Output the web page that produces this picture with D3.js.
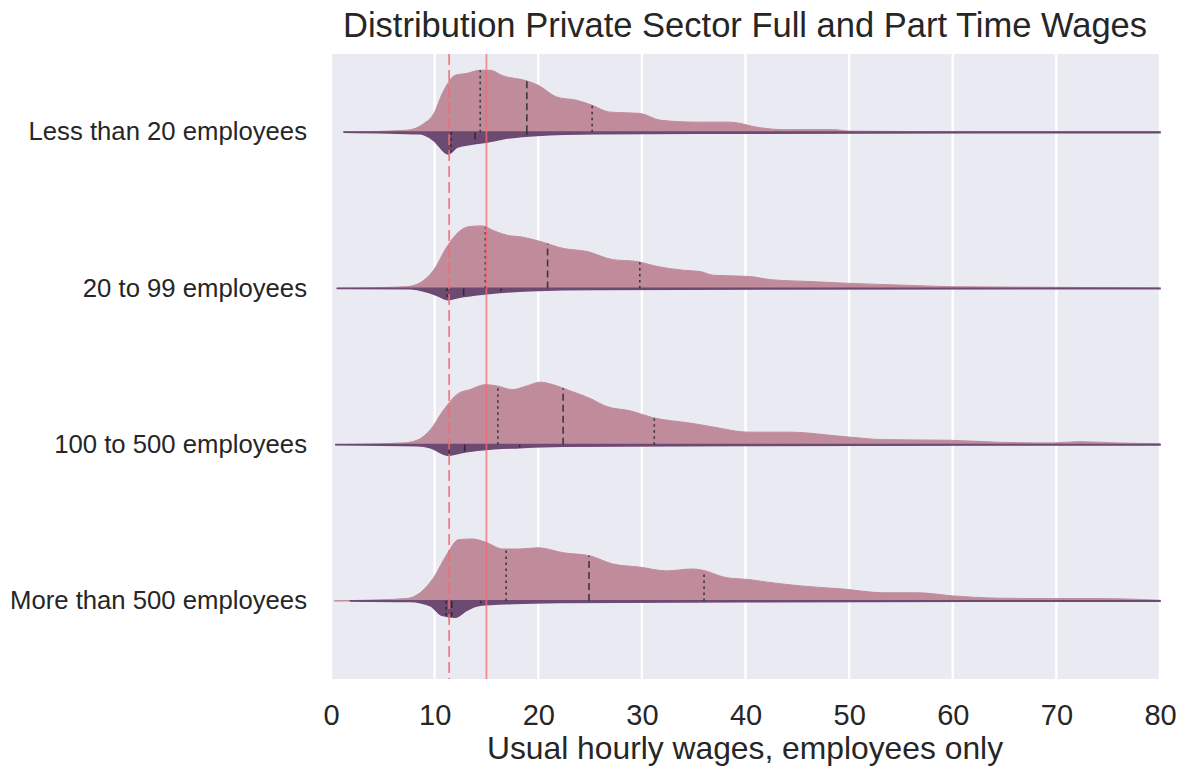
<!DOCTYPE html>
<html><head><meta charset="utf-8">
<script src="https://cdn.jsdelivr.net/npm/d3@7"></script>
<style>body{margin:0;background:#fff}svg{display:block}text{font-family:"Liberation Sans",Arial,sans-serif;fill:#262626}</style>
</head><body><svg id="c" width="1184" height="766"></svg>
<script>
// ---- data ----
const categories = ["Less than 20 employees","20 to 99 employees","100 to 500 employees","More than 500 employees"];
const wageTicks = [0,10,20,30,40,50,60,70,80];
const titleText = "Distribution Private Sector Full and Part Time Wages";
const xLabel = "Usual hourly wages, employees only";
const refDashed = 11.4;   // dashed red reference wage
const refSolid = 15;      // solid red reference wage

// relative density (1 = widest half-violin), [wage, density]
const fullTimeLt20 = [[1.2,0],[7.3,0.03],[8.9,0.13],[9.9,0.29],[10.8,0.64],[12.0,0.91],[13.1,0.94],[14.4,0.99],[15.35,0.99],[16.6,0.90],[18.9,0.82],[20,0.75],[21.8,0.56],[23.7,0.51],[25.2,0.43],[26.9,0.32],[29.8,0.30],[31.8,0.19],[35.3,0.16],[38.5,0.16],[41.4,0.07],[43.6,0.04],[48.5,0.04],[50.1,0.016],[60,0.008],[80,0.005]];
const partTimeLt20 = [[1.2,0],[8.6,0.027],[9.9,0.13],[11.3,0.35],[12.2,0.24],[13.7,0.19],[15,0.16],[17.3,0.09],[19.9,0.053],[25.7,0.027],[40,0.016],[80,0.008]];
const fullTime20to99 = [[0.55,0],[7.3,0.027],[8.6,0.09],[9.9,0.29],[11.2,0.67],[12.3,0.90],[13.4,0.99],[14.6,1.0],[15.6,0.93],[17.0,0.85],[18.5,0.82],[20.2,0.75],[22.4,0.64],[24.7,0.59],[27.2,0.46],[29.5,0.43],[31.5,0.35],[34.0,0.29],[35.6,0.27],[36.9,0.21],[40.4,0.19],[42.4,0.14],[46.2,0.11],[50.1,0.08],[54.9,0.053],[60,0.027],[71,0.016],[80,0.005]];
const partTime20to99 = [[0.55,0],[7.6,0.005],[9.2,0.053],[10.2,0.11],[11.3,0.18],[12.4,0.14],[13.7,0.11],[16,0.07],[19.2,0.037],[25.7,0.016],[80,0.005]];
const fullTime100to500 = [[0.4,0],[7.0,0.027],[8.3,0.07],[9.6,0.24],[10.8,0.54],[12.3,0.82],[13.4,0.88],[14.9,0.96],[16.0,0.94],[17.5,0.88],[18.9,0.94],[20.2,1.0],[21.4,0.96],[23.1,0.86],[25,0.74],[26.6,0.61],[28.9,0.54],[31.1,0.43],[34.4,0.35],[35.6,0.32],[37.6,0.26],[40.2,0.2],[44.3,0.2],[49.4,0.13],[53.3,0.08],[59.7,0.07],[64.5,0.037],[69.6,0.027],[72.2,0.048],[75.8,0.027],[80,0.016]];
const partTime100to500 = [[0.4,0],[8.3,0.016],[9.6,0.048],[11.3,0.17],[12.8,0.12],[14.7,0.08],[18.2,0.048],[22.4,0.027],[40,0.013],[80,0.005]];
const fullTimeGt500 = [[0.3,0],[1.8,0.005],[7.3,0.037],[8.6,0.13],[9.9,0.37],[11.2,0.75],[12.3,0.98],[13.6,0.99],[14.9,0.94],[16.6,0.83],[18.2,0.83],[20,0.85],[22.4,0.77],[25,0.72],[27.2,0.59],[29.8,0.54],[32.4,0.48],[34.8,0.51],[35.6,0.50],[38.2,0.37],[40.4,0.34],[42.1,0.30],[45.3,0.24],[49.4,0.19],[53.3,0.13],[56.6,0.13],[60,0.08],[64.5,0.043],[69.7,0.037],[74.2,0.037],[77.4,0.027],[80,0.01]];
const partTimeGt500 = [[1.8,0],[7.6,0.011],[9.6,0.08],[10.7,0.23],[12.0,0.26],[13.1,0.15],[14.4,0.07],[17.6,0.043],[22,0.027],[40,0.013],[80,0.005]];

const fullTimeDensity = [fullTimeLt20, fullTime20to99, fullTime100to500, fullTimeGt500];
const partTimeDensity = [partTimeLt20, partTime20to99, partTime100to500, partTimeGt500];
// quartiles [Q1, median, Q3]
const fullTimeQuartiles = [[14.4,18.9,25.2],[14.9,20.9,29.8],[16.1,22.4,31.2],[16.9,24.9,36.0]];
const partTimeQuartiles = [[11.6,13.9,18.9],[11.2,12.8,16.4],[11.4,12.9,18.2],[11.1,11.65,14.45]];

// ---- layout ----
const svg = d3.select("#c");
const m = {left:331, right:1160, top:54, bottom:679};
const x = d3.scaleLinear().domain([0,80]).range([m.left, m.right]);
const y = d3.scaleBand().domain(categories).range([m.top, m.bottom]);
const half = y.bandwidth()*0.4;
const h = d3.scaleLinear().domain([0,1]).range([0, half]);

svg.append("rect").attr("x",m.left).attr("y",m.top).attr("width",m.right-m.left).attr("height",m.bottom-m.top).attr("fill","#eaeaf2");
svg.append("g").selectAll("line").data(wageTicks).join("line")
  .attr("x1",d=>x(d)).attr("x2",d=>x(d)).attr("y1",m.top).attr("y2",m.bottom)
  .attr("stroke","#fff").attr("stroke-width",2.4);

function interp(arr, w){
  for(let i=1;i<arr.length;i++){
    if(w<=arr[i][0]){const a=arr[i-1],b=arr[i];const t=(w-a[0])/(b[0]-a[0]);return a[1]+t*(b[1]-a[1]);}
  }
  return 0;
}

const dashes = ["2.5,3.5","7,4","2.5,3.5"];
categories.forEach((cat,i)=>{
  const cy = y(cat)+y.bandwidth()/2;
  const up = d3.area().x(d=>x(d[0])).y0(cy).y1(d=>cy-h(d[1])).curve(d3.curveMonotoneX);
  const dn = d3.area().x(d=>x(d[0])).y0(cy).y1(d=>cy+h(d[1])).curve(d3.curveMonotoneX);
  svg.append("path").attr("d",up(fullTimeDensity[i])).attr("fill","#c08c9c").attr("stroke","#c08c9c").attr("stroke-width",1);
  svg.append("path").attr("d",dn(partTimeDensity[i])).attr("fill","#6d4a72").attr("stroke","#6d4a72").attr("stroke-width",1.6);
  fullTimeQuartiles[i].forEach((q,k)=>{
    svg.append("line").attr("x1",x(q)).attr("x2",x(q)).attr("y1",cy).attr("y2",cy-h(interp(fullTimeDensity[i],q)))
      .attr("stroke","#3a3a3a").attr("stroke-width",1.6).attr("stroke-dasharray",dashes[k]);
  });
  partTimeQuartiles[i].forEach((q,k)=>{
    svg.append("line").attr("x1",x(q)).attr("x2",x(q)).attr("y1",cy).attr("y2",cy+h(interp(partTimeDensity[i],q)))
      .attr("stroke","#2e2e2e").attr("stroke-width",1.6).attr("stroke-dasharray",dashes[k]);
  });
});

// reference lines
svg.append("line").attr("x1",x(refDashed)).attr("x2",x(refDashed)).attr("y1",m.top).attr("y2",m.bottom)
  .attr("stroke","#f26c6c").attr("stroke-opacity",0.85).attr("stroke-width",1.8).attr("stroke-dasharray","11,5");
svg.append("line").attr("x1",x(refSolid)).attr("x2",x(refSolid)).attr("y1",m.top).attr("y2",m.bottom)
  .attr("stroke","#f26c6c").attr("stroke-opacity",0.75).attr("stroke-width",1.8);

// axes text
const xa = d3.axisBottom(x).tickValues(wageTicks).tickSize(0).tickPadding(0);
const gx = svg.append("g").attr("transform",`translate(0,${m.bottom})`).call(xa);
gx.select(".domain").remove();
gx.selectAll("text").attr("y",25).attr("dy","0.71em").style("font-size","29px").style("font-family","'Liberation Sans',Arial,sans-serif").attr("fill","#262626");

const ya = d3.axisLeft(y).tickSize(0).tickPadding(24);
const gy = svg.append("g").attr("transform",`translate(${m.left},0)`).call(ya);
gy.select(".domain").remove();
gy.selectAll("text").style("font-size","25.7px").style("font-family","'Liberation Sans',Arial,sans-serif").attr("fill","#262626");

svg.append("text").attr("x",745).attr("y",759).attr("text-anchor","middle").style("font-size","31.8px").text(xLabel);
svg.append("text").attr("x",745).attr("y",37).attr("text-anchor","middle").style("font-size","34.5px").text(titleText);
</script></body></html>
